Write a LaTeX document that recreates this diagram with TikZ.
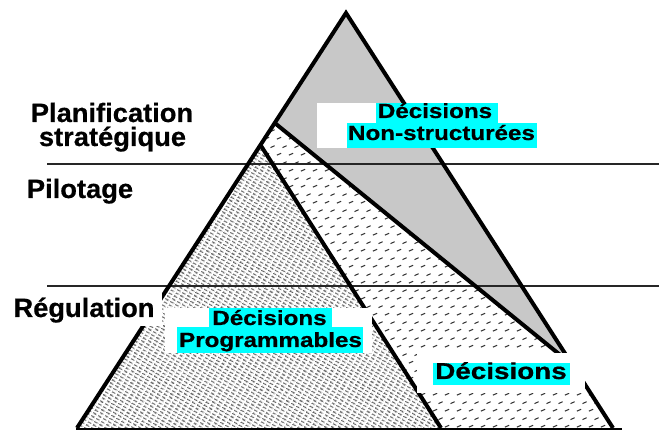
\documentclass[tikz,border=0pt]{standalone}
\usepackage{fontspec}
\setmainfont{Liberation Sans}
\newfontfamily\levelfont[FakeStretch=1.03,FakeBold=0.6]{Liberation Sans}
\newfontfamily\tagfont[FakeStretch=1.18,FakeBold=0.6]{Liberation Sans}
\newfontfamily\tagfontwide[FakeStretch=1.21,FakeBold=0.6]{Liberation Sans}
\usetikzlibrary{patterns.meta,calc}
\definecolor{aqua}{RGB}{0,255,255}
\definecolor{wedgegray}{RGB}{200,200,200}

\tikzdeclarepattern{
  name=densehatch,
  type=uncolored,
  bounding box={(0pt,0pt) and (6pt,3.6pt)},
  tile size={(6pt,3.6pt)},
  tile transformation={rotate=-30},
  code={\draw[line width=1.4pt] (0pt,1.8pt) -- (4.6pt,1.8pt);}
}
\tikzdeclarepattern{
  name=sparsemarks,
  type=uncolored,
  bounding box={(0pt,0pt) and (12pt,16pt)},
  tile size={(12pt,16pt)},
  code={
    \draw[line width=1.1pt] (1pt,3pt) -- (5.5pt,5pt);
    \draw[line width=1.1pt] (7pt,11pt) -- (11.5pt,13pt);
  }
}

\tikzset{
  edge/.style={line width=4pt, line join=miter, line cap=butt},
  levelline/.style={line width=1.3pt, black!85},
  baseline/.style={line width=1.8pt},
  levellabel/.style={font=\levelfont\fontsize{26.5}{30}\selectfont\bfseries, inner sep=0pt, anchor=base},
  taglabel/.style={font=\tagfont\fontsize{20.5}{24}\selectfont\bfseries, inner sep=0pt, anchor=base},
  taglabelbig/.style={font=\tagfontwide\fontsize{23}{26}\selectfont\bfseries, inner sep=0pt, anchor=base},
  highlight/.style={fill=aqua},
  blank/.style={fill=white},
  wedge/.style={fill=wedgegray},
}

\begin{document}
\begin{tikzpicture}[x=1pt,y=-1pt]
\useasboundingbox (0,0) rectangle (659,430);

% main points
\coordinate (A) at (346,13);
\coordinate (L) at (77,428);
\coordinate (R) at (613,428);
\coordinate (B2) at (441,428);
\coordinate (P1) at ($(A)!0.265!(L)$);
\coordinate (P3) at ($(A)!0.318!(L)$);
\coordinate (P2) at ($(A)!0.848!(R)$);

% regions
\fill[wedge] (A) -- (P1) -- (P2) -- cycle;
\fill[pattern=sparsemarks, pattern color=black!80] (P1) -- (P2) -- (R) -- (B2) -- (P3) -- cycle;
\fill[pattern=densehatch, pattern color=black!62] (P3) -- (L) -- (B2) -- cycle;

% level lines
\coordinate (H1a) at (47,164);
\coordinate (H1b) at (659,164);
\coordinate (H2a) at (47,286);
\coordinate (H2b) at (659,286);
\draw[levelline] (H1a) -- (H1b);
\draw[levelline] (H2a) -- (H2b);

% base
\coordinate (BL) at (76,428.6);
\coordinate (BR) at (622,428.6);
\draw[baseline] (BL) -- (BR);

% thick edges
\draw[edge] (L) -- (A) -- (R);
\draw[edge] (P1) -- (P2);
\draw[edge] (P3) -- (B2);

% white backgrounds
\fill[blank] (317,103) rectangle (537,148);
\fill[blank] (165,308) rectangle (372,353);
\fill[blank] (417,353) rectangle (585,393);
\fill[blank] (10,292) rectangle (162,326);

% cyan highlights
\fill[highlight] (376,103) rectangle (498,123);
\fill[highlight] (347,123) rectangle (537,148);
\fill[highlight] (209,308) rectangle (332,327);
\fill[highlight] (177,327) rectangle (363,353);
\fill[highlight] (433,363) rectangle (570,385);

% level labels
\node[levellabel] (plan) at (112,122) {Planification};
\node[levellabel] (strat) at (112.5,146) {stratégique};
\node[levellabel] (pil) at (80,198) {Pilotage};
\node[levellabel] (reg) at (84,317) {Régulation};

% decision labels
\node[taglabel] (ns1) at (435,118) {Décisions};
\node[taglabel] (ns2) at (441.5,140) {Non-structurées};
\node[taglabel] (pr1) at (269.5,325) {Décisions};
\node[taglabel] (pr2) at (270.5,347) {Programmables};
\node[taglabelbig] (semi) at (501,379) {Décisions};
\end{tikzpicture}
\end{document}
